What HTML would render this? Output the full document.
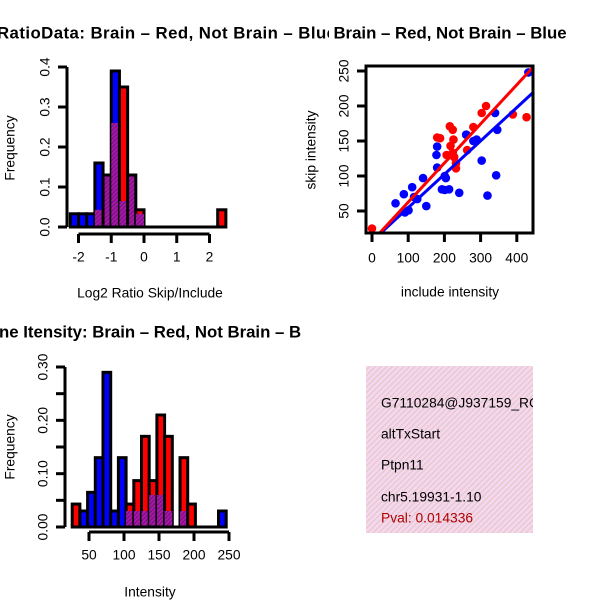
<!DOCTYPE html>
<html><head><meta charset="utf-8"><style>
html,body{margin:0;padding:0;background:#fff;overflow:hidden}
svg{display:block;font-family:"Liberation Sans",sans-serif}
</style></head><body>
<svg id="c" width="600" height="600" xmlns="http://www.w3.org/2000/svg">
<defs>
<pattern id="pinkhatch" width="4" height="4" patternUnits="userSpaceOnUse" patternTransform="rotate(45)">
<rect width="4" height="4" fill="#fad4f0"/><rect width="1.2" height="4" fill="#d8cfc4"/></pattern>
<pattern id="purp" width="3" height="3" patternUnits="userSpaceOnUse" patternTransform="rotate(45)">
<rect width="3" height="3" fill="#a818a8"/><rect width="1" height="3" fill="#701078"/></pattern>
<clipPath id="clipTL"><rect x="0" y="0" width="329" height="60"/></clipPath>
<clipPath id="clipBL"><rect x="0" y="300" width="301" height="60"/></clipPath>
<clipPath id="clipSc"><rect x="366" y="66" width="167" height="167"/></clipPath>
<clipPath id="clipTx"><rect x="366" y="366" width="167" height="167"/></clipPath>
</defs>
<g id="g"></g>
</svg>
<script>
// ---- Histogram 1 data (Log2 ratio) ----
const h1Start = -2.25;
const h1Width = 0.25;
const h1Red  = [0,0,0,0.043,0.13,0.26,0.35,0.13,0.043,0,0,0,0,0,0,0,0,0,0.043];
const h1Blue = [0.033,0.033,0.033,0.16,0.13,0.39,0.065,0.13,0.033,0,0,0,0,0,0,0,0,0,0];
const h1YTicks = [0,0.1,0.2,0.3,0.4];
const h1YLabels = ["0.0","0.1","0.2","0.3","0.4"];
const h1XTicks = [-2,-1,0,1,2];
// ---- Histogram 2 data (Intensity) ----
const h2Start = 26;
const h2Width = 11;
const h2Red  = [0.043,0,0,0,0,0,0,0.043,0.087,0.17,0.087,0.21,0.17,0,0.13,0.043,0,0,0,0];
const h2Blue = [0,0.03,0.065,0.13,0.29,0.03,0.13,0.03,0.03,0.03,0.06,0.06,0.03,0,0.03,0,0,0,0,0.03];
const h2YTicks = [0,0.05,0.10,0.15,0.20,0.25,0.30];
const h2YLabels = ["0.00","","0.10","","0.20","","0.30"];
const h2XTicks = [50,100,150,200,250];
// ---- Scatter data ----
const redX = [0,188,180,215,223,225,217,223,206,227,232,232,261,263,280,303,315,389,427];
const redY = [25,154,155,171,166,152,143,133,130,127,118,111,159,137,170,190,200,188,184];
const blueX = [65,88,91,101,111,116,125,141,150,180,178,180,201,204,193,201,213,241,260,280,289,303,319,340,346,343,432];
const blueY = [61,74,48,51,84,70,67,97,57,142,130,112,100,97,81,80,81,76,159,150,152,122,72,190,166,101,248];
const redFit = [6.7,0.559];   // intercept, slope
const blueFit = [7,0.477];
const scXTicks = [0,100,200,300,400];
const scYTicks = [50,100,150,200,250];
const infoLines = ["G7110284@J937159_RC@j_at","altTxStart","Ptpn11","chr5.19931-1.10"];
const pvalText = "Pval: 0.014336";

const NS="http://www.w3.org/2000/svg";
const G=document.getElementById('g');
const FS=13.8;
function mk(tag,attrs,parent){const e=document.createElementNS(NS,tag);for(const k in attrs)e.setAttribute(k,attrs[k]);(parent||G).appendChild(e);return e;}
function txt(s,x,y,o,p){const e=mk('text',Object.assign({x:x,y:y,'font-size':FS,'text-anchor':'middle','dominant-baseline':'central',fill:'#000'},o||{}),p);e.textContent=s;return e;}

function hist(id,start,w,red,blue,xs,ys,yTicks,yLabels,xTicks,xAxisY,yAxisX){
  const grp=mk('g',{});
  
  
  for(let i=0;i<red.length;i++){
    const x0=xs(start+i*w), x1=xs(start+(i+1)*w);
    const r=red[i], b=blue[i], mn=Math.min(r,b), mx=Math.max(r,b);
    if(mx>mn){const e=mk('rect',{x:x0,y:ys(mx),width:x1-x0,height:ys(0)-ys(mx),fill:r>b?'#ff0000':'#0000ff',stroke:'#000','stroke-width':3},grp);
      
      }
    if(mn>0){const e=mk('rect',{x:x0,y:ys(mn),width:x1-x0,height:ys(0)-ys(mn),fill:'url(#purp)',stroke:'#000','stroke-width':mx>mn?0:3},grp);
      
      }
  }
  const bl=mk('line',{x1:xs(start),x2:xs(start+red.length*w),y1:ys(0),y2:ys(0),stroke:'#000','stroke-width':3},grp);
  
  
  const ya=mk('g',{},grp);
  
  
  mk('line',{x1:yAxisX,x2:yAxisX,y1:ys(yTicks[0]),y2:ys(yTicks[yTicks.length-1]),stroke:'#000','stroke-width':3},ya);
  yTicks.forEach((t,i)=>{mk('line',{x1:yAxisX-9,x2:yAxisX,y1:ys(t),y2:ys(t),stroke:'#000','stroke-width':3},ya);
    if(yLabels[i]){const e=txt(yLabels[i],yAxisX-22,ys(t),{transform:`rotate(-90 ${yAxisX-22} ${ys(t)})`},ya);
      
      }});
  const xa=mk('g',{},grp);
  
  
  mk('line',{x1:xs(xTicks[0]),x2:xs(xTicks[xTicks.length-1]),y1:xAxisY,y2:xAxisY,stroke:'#000','stroke-width':3},xa);
  xTicks.forEach(t=>{mk('line',{x1:xs(t),x2:xs(t),y1:xAxisY,y2:xAxisY+9,stroke:'#000','stroke-width':3},xa);
    const e=txt(String(t),xs(t),xAxisY+23,{},xa);
    
    });
}
const xs1=v=>144+v*32.75, ys1=v=>227-v*400;
hist('ratio-histogram',h1Start,h1Width,h1Red,h1Blue,xs1,ys1,h1YTicks,h1YLabels,h1XTicks,234,67);
const xs2=v=>89+(v-50)*0.7, ys2=v=>527-v*533.3;
hist('intensity-histogram',h2Start,h2Width,h2Red,h2Blue,xs2,ys2,h2YTicks,h2YLabels,h2XTicks,532,65);

// Scatter
const sx=v=>372+v*0.362, sy=v=>246-v*0.7;
const sc=mk('g',{});


const pts=mk('g',{'clip-path':'url(#clipSc)'},sc);
redX.forEach((x,i)=>{const c=mk('circle',{cx:sx(x),cy:sy(redY[i]),r:4.3,fill:'#ff0000'},pts);
  
  });
blueX.forEach((x,i)=>{const c=mk('circle',{cx:sx(x),cy:sy(blueY[i]),r:4.3,fill:'#0000ff'},pts);
  
  });
[[blueFit,'#0000ff','blue-fit-line'],[redFit,'#ff0000','red-fit-line']].forEach(([f,col,n])=>{
  const l=mk('line',{x1:sx(-50),y1:sy(f[0]+f[1]*-50),x2:sx(500),y2:sy(f[0]+f[1]*500),stroke:col,'stroke-width':3},pts);
  
  });
const box=mk('rect',{x:366,y:66,width:167,height:167,fill:'none',stroke:'#000','stroke-width':3},sc);


scXTicks.forEach(t=>{mk('line',{x1:sx(t),x2:sx(t),y1:233,y2:242,stroke:'#000','stroke-width':3},sc);
  const e=txt(String(t),sx(t),258,{},sc);
  
  });
scYTicks.forEach(t=>{mk('line',{x1:357,x2:366,y1:sy(t),y2:sy(t),stroke:'#000','stroke-width':3},sc);
  const e=txt(String(t),344,sy(t),{transform:`rotate(-90 344 ${sy(t)})`},sc);
  
  });

// Info box
const ib=mk('g',{'clip-path':'url(#clipTx)'});


mk('rect',{x:366,y:366,width:167,height:167,fill:'url(#pinkhatch)'},ib);
[403,434,465,497].forEach((y,i)=>{const e=txt(infoLines[i],381,y,{'text-anchor':'start'},ib);
  
  });
const pv=txt(pvalText,381,518,{'text-anchor':'start',fill:'#b00000'},ib);



// Titles & axis labels
const tl=mk('g',{'clip-path':'url(#clipTL)'});
const bt=mk('g',{'clip-path':'url(#clipBL)'});
function lab(s,x,y,n,o,p){const e=txt(s,x,y,o,p);return e;}
lab('RatioData: Brain \u2013 Red, Not Brain \u2013 Blue',-3,33,'ratio-title',{'text-anchor':'start','font-weight':'bold','font-size':16.8,textLength:339,lengthAdjust:'spacing'},tl);
lab('Brain \u2013 Red, Not Brain \u2013 Blue',450,33,'scatter-title',{'font-weight':'bold','font-size':16.8});
lab('ne Itensity: Brain \u2013 Red, Not Brain \u2013 Blue',-1,332,'intensity-title',{'text-anchor':'start','font-weight':'bold','font-size':16.8},bt);
lab('Frequency',10,148,'y-axis-title',{transform:'rotate(-90 10 148)'});
lab('Log2 Ratio Skip/Include',150,293,'x-axis-title');
lab('skip intensity',311,150,'y-axis-title',{transform:'rotate(-90 311 150)'});
lab('include intensity',450,292,'x-axis-title');
lab('Frequency',10,447,'y-axis-title',{transform:'rotate(-90 10 447)'});
lab('Intensity',150,592,'x-axis-title');
</script>
</body></html>
